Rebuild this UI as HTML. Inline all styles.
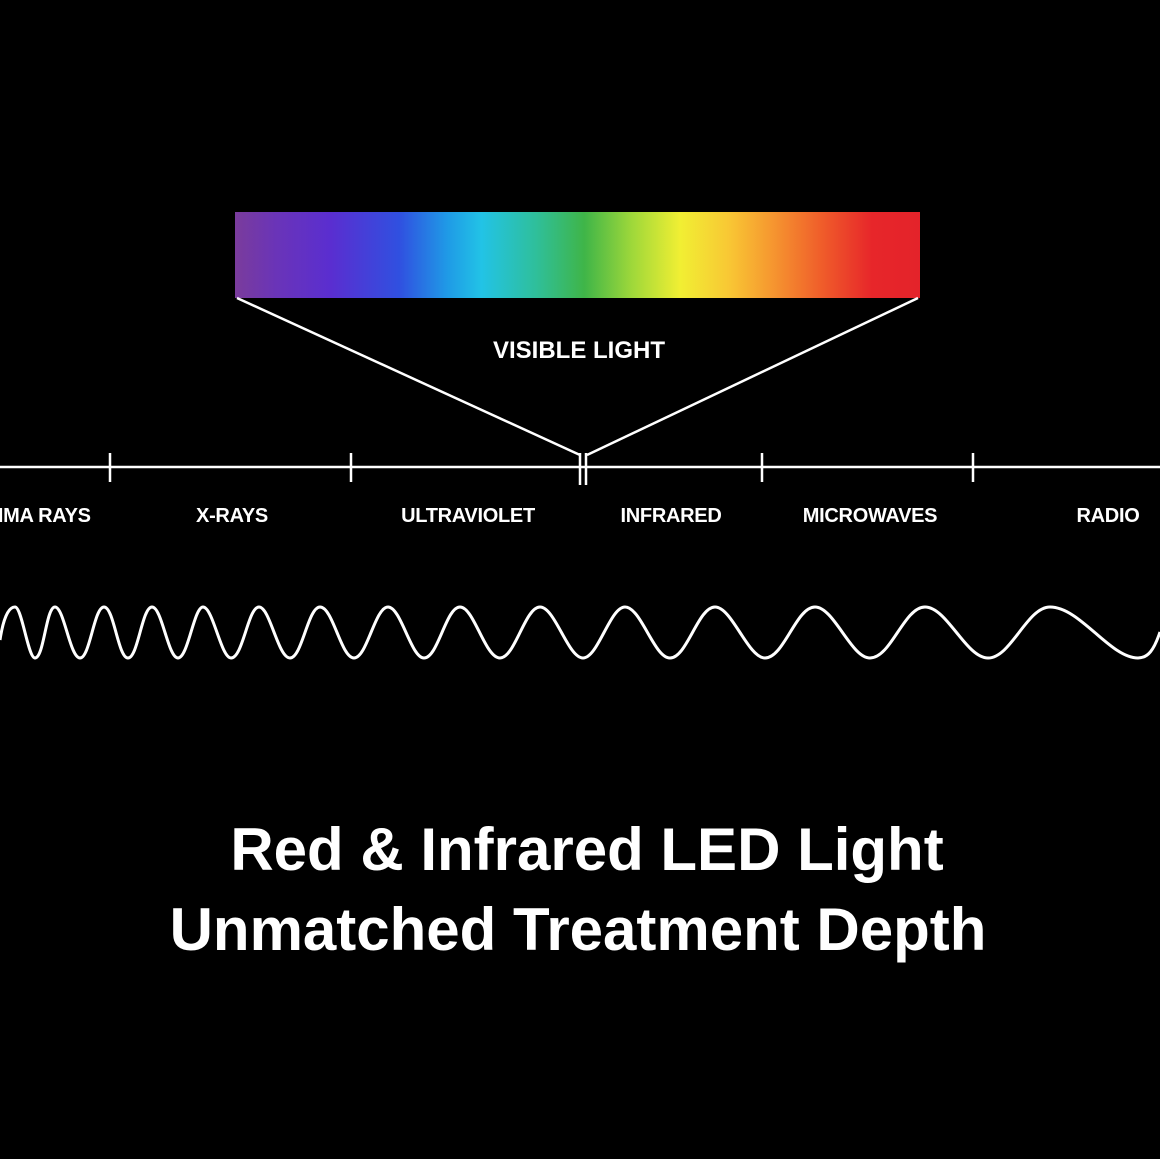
<!DOCTYPE html>
<html><head><style>
html,body{margin:0;padding:0;background:#000;}
body{width:1160px;height:1159px;overflow:hidden;position:relative;font-family:"Liberation Sans",sans-serif;}
.bar{position:absolute;left:235px;top:212px;width:685px;height:86px;
background:linear-gradient(90deg,#7a3c9c 0%,#6a34b8 6%,#5a2ed0 14%,#3050e0 24%,#1f9ae6 31%,#22c3e6 36%,#2fbf9a 44%,#3fb548 51%,#9fd83a 58%,#f1ef33 65%,#f8c834 72%,#f69a30 78%,#ef5a2a 86%,#e7262a 93%,#e4232a 100%);}
.t{position:absolute;color:#fff;font-weight:bold;white-space:nowrap;transform:translateX(-50%);}
.lab{font-size:20px;top:505px;letter-spacing:-0.3px;}
.big{font-size:60px;}
</style></head><body>
<div class="bar"></div>
<svg width="1160" height="1159" style="position:absolute;left:0;top:0">
<g stroke="#fff" stroke-width="2.5" fill="none">
<line x1="237" y1="298" x2="580" y2="455"/>
<line x1="918" y1="298" x2="587" y2="455"/>
<line x1="0" y1="467" x2="1160" y2="467"/>
<line x1="580" y1="453" x2="580" y2="485"/>
<line x1="586" y1="453" x2="586" y2="485"/>
<line x1="110" y1="453" x2="110" y2="482"/>
<line x1="351" y1="453" x2="351" y2="482"/>
<line x1="762" y1="453" x2="762" y2="482"/>
<line x1="973" y1="453" x2="973" y2="482"/>
</g>
<path stroke="#fff" stroke-width="3" fill="none" d="M0 640 C3 620,8 607,15 607 C22 607,28 658,35 658 C44 658,46 607,55 607 C64 607,70 658,80 658 C90 658,94 607,104 607 C114 607,118 658,128 658 C138 658,142 607,152 607 C162 607,168 658,178 658 C188 658,194 607,203 607 C213 607,221 658,231 658 C243 658,248 607,259 607 C270 607,278 658,290 658 C302 658,308 607,320 607 C333 607,341 658,354 658 C367 658,375 607,388 607 C401 607,411 658,424 658 C438 658,446 607,460 607 C474 607,485 658,500 658 C515 658,525 607,540 607 C555 607,568 658,583 658 C598 658,610 607,625 607 C641 607,654 658,670 658 C687 658,698 607,715 607 C732 607,748 658,765 658 C784 658,796 607,815 607 C834 607,851 658,870 658 C891 658,904 607,925 607 C947 607,966 658,988 658 C1011 658,1027 607,1050 607 C1080 607,1110 658,1138 658 C1148 658,1154 650,1160 632"/>
</svg>
<div class="t" style="left:579px;top:337px;font-size:24px;">VISIBLE LIGHT</div>
<div class="t lab" style="left:24px;">GAMMA RAYS</div>
<div class="t lab" style="left:232px;">X-RAYS</div>
<div class="t lab" style="left:468px;">ULTRAVIOLET</div>
<div class="t lab" style="left:671px;">INFRARED</div>
<div class="t lab" style="left:870px;">MICROWAVES</div>
<div class="t lab" style="left:1108px;">RADIO</div>
<div class="t big" style="left:587px;top:815px;">Red &amp; Infrared LED Light</div>
<div class="t big" style="left:578px;top:895px;">Unmatched Treatment Depth</div>
</body></html>
